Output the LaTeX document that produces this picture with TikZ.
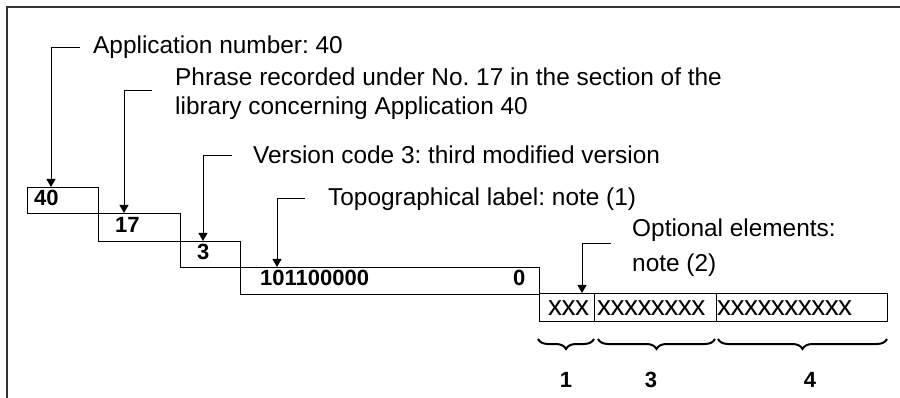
\documentclass[tikz,border=0pt]{standalone}
\usepackage{fontspec}
\setmainfont{Liberation Sans}
\usetikzlibrary{arrows.meta,decorations.pathreplacing}
\frenchspacing
\begin{document}
\begin{tikzpicture}[x=1pt,y=-1pt,
  lab/.style={anchor=base west,inner sep=0pt,font=\fontsize{24.4}{29}\selectfont},
  dig/.style={anchor=base west,inner sep=0pt,font=\fontsize{22}{26}\selectfont\bfseries},
  xs/.style={anchor=base west,inner sep=0pt,font=\fontsize{28}{30}\selectfont\addfontfeature{LetterSpace=-2}},
  cell/.style={draw,line width=1pt,anchor=north west,inner sep=0pt},
  arr/.style={line width=1pt,-{Triangle[width=9pt,length=8pt]}},
  brc/.style={decorate,decoration={brace,mirror,amplitude=10pt,aspect=0.5},line width=2pt}
]
\useasboundingbox (0,0) rectangle (900,398);
\fill[white] (0,0) rectangle (900,398);
% frame (top and left edges visible)
\draw[line width=1.5pt,black!80] (7,398) -- (7,7) -- (900,7);

% stepped cells
\node[cell,minimum width=71pt,minimum height=26pt] (b40) at (27,187) {};
\node[cell,minimum width=82pt,minimum height=28pt] (b17) at (98,213) {};
\node[cell,minimum width=60pt,minimum height=26pt] (b3) at (180,241) {};
\node[cell,minimum width=299pt,minimum height=27pt] (b101) at (240,267) {};
\node[cell,minimum width=55pt,minimum height=28pt] (s1) at (539,293) {};
\node[cell,minimum width=122pt,minimum height=28pt] (s2) at (594,293) {};
\node[cell,minimum width=171pt,minimum height=28pt] (s3) at (716,293) {};

% cell contents
\node[dig] (t40) at (34,206) {40};
\node[dig] (t17) at (115,233) {17};
\node[dig] (t3) at (197,260) {3};
\node[dig] (t101) at (260,286) {101100000};
\node[dig] (t0) at (513,286) {0};
\node[xs] (x1) at (548,315) {xxx};
\node[xs] (x2) at (597,315) {xxxxxxxx};
\node[xs] (x3) at (717,315) {xxxxxxxxxx};

% labels
\node[lab] (l1) at (93,54) {Application number: 40};
\node[lab] (l2) at (175,86) {\begin{tabular}[t]{@{}l@{}}Phrase recorded under No. 17 in the section of the\\ library concerning Application 40\end{tabular}};
\node[lab] (l3) at (253,164) {Version code 3: third modified version};
\node[lab] (l4) at (328,206) {Topographical label: note (1)};
\node[lab,font=\fontsize{24.4}{35}\selectfont] (l5) at (632,237) {\begin{tabular}[t]{@{}l@{}}Optional elements:\\ note (2)\end{tabular}};

% arrows
\draw[arr] ([xshift=-13pt]l1.west) -| ([xshift=24pt]b40.north west);
\draw[arr] ([xshift=-23pt,yshift=4pt]l2.west) -| ([xshift=26pt]b17.north west);
\draw[arr] ([xshift=-21pt]l3.west) -| ([xshift=23pt]b3.north west);
\draw[arr] ([xshift=-23pt,yshift=1pt]l4.west) -| ([xshift=37pt]b101.north west);
\draw[arr] ([xshift=-21pt,yshift=4pt]l5.west) -| ([xshift=43pt]s1.north west);

% braces
\draw[brc] ([xshift=-1pt,yshift=-17pt]s1.south west) -- ([xshift=-1pt,yshift=-17pt]s1.south east);
\draw[brc] ([xshift=4pt,yshift=-17pt]s2.south west) -- ([xshift=-2pt,yshift=-17pt]s2.south east);
\draw[brc] ([xshift=2pt,yshift=-17pt]s3.south west) -- ([xshift=-1pt,yshift=-17pt]s3.south east);

\node[dig,anchor=base] (n1) at (566,387) {1};
\node[dig,anchor=base] (n3) at (651,387) {3};
\node[dig,anchor=base] (n4) at (810,387) {4};
\end{tikzpicture}
\end{document}
